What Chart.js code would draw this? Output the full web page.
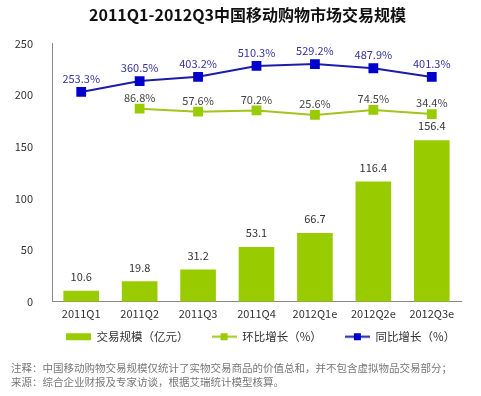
<!DOCTYPE html>
<html><head><meta charset="utf-8">
<script src="https://cdn.jsdelivr.net/npm/chart.js@4/dist/chart.umd.min.js"></script>
<style>html,body{margin:0;padding:0;background:#fff}#wrap{width:481px;height:396px;position:relative}</style>
</head><body><div id="wrap"><canvas id="c" width="481" height="396"></canvas></div>
<script>
const categories = ['2011Q1','2011Q2','2011Q3','2011Q4','2012Q1e','2012Q2e','2012Q3e'];
const scaleValues = [10.6, 19.8, 31.2, 53.1, 66.7, 116.4, 156.4];
const qoqGrowth = [null, 86.8, 57.6, 70.2, 25.6, 74.5, 34.4];
const yoyGrowth = [253.3, 360.5, 403.2, 510.3, 529.2, 487.9, 401.3];
const yTickStep = 50;
const yMax = 250;
const titleText = '2011Q1-2012Q3中国移动购物市场交易规模';
const seriesNames = ['交易规模（亿元）', '环比增长（%）', '同比增长（%）'];
const notes = ['注释：中国移动购物交易规模仅统计了实物交易商品的价值总和，并不包含虚拟物品交易部分；',
               '来源：综合企业财报及专家访谈，根据艾瑞统计模型核算。'];

const FONT = "'Noto Sans CJK SC', 'DejaVu Sans', sans-serif";
const BAR = '#99cc00', GLINE = '#a2c41c', GMARK = '#99cc00', BLINE = '#1c1ca8', BMARK = '#0000cc';

function legendIcon(kind){
  const cv = document.createElement('canvas'); cv.width = 25; cv.height = 9;
  const x = cv.getContext('2d');
  if(kind === 'bar'){ x.fillStyle = BAR; x.fillRect(0,1,25,7); }
  else {
    const lc = kind === 'g' ? GLINE : BLINE, mc = kind === 'g' ? GMARK : BMARK;
    x.fillStyle = lc; x.fillRect(0,3.5,25,2);
    x.fillStyle = mc; x.fillRect(9,1,7,7);
  }
  return cv;
}
const icons = [legendIcon('bar'), legendIcon('g'), legendIcon('b')];

const labelPlugin = {
  id: 'valueLabels',
  afterDatasetsDraw(chart){
    const ctx = chart.ctx;
    ctx.save();
    ctx.textAlign = 'center'; ctx.textBaseline = 'middle';
    ctx.font = "11px " + FONT;
    chart.data.datasets.forEach((ds, i) => {
      const meta = chart.getDatasetMeta(i);
      meta.data.forEach((el, j) => {
        const v = ds.data[j]; if(v == null) return;
        let txt, dy, col;
        if(i === 0){ txt = v.toFixed(1); dy = 14; col = '#333'; }
        else if(i === 1){ txt = v.toFixed(1) + '%'; dy = 11; col = '#444'; }
        else { txt = v.toFixed(1) + '%'; dy = 13; col = '#33339a'; }
        ctx.fillStyle = col;
        ctx.fillText(txt, el.x, el.y - dy);
      });
    });
    ctx.restore();
  }
};
const notesPlugin = {
  id: 'notes',
  afterLayout(chart){
    // nudge the legend row up (closer to the axis labels) and centre it on the plot
    const lg = chart.legend;
    if(lg){ lg.top -= 17; lg.bottom -= 17; lg.left += 13; lg.right += 13; }
  },
  afterDraw(chart){
    const ctx = chart.ctx;
    ctx.save();
    ctx.font = "10.5px " + FONT; ctx.fillStyle = '#777';
    ctx.textAlign = 'left'; ctx.textBaseline = 'middle';
    notes.forEach((t, k) => ctx.fillText(t, 11, 368 + k * 14));
    ctx.restore();
  }
};

new Chart(document.getElementById('c'), {
  data: {
    labels: categories,
    datasets: [
      { type: 'bar', label: seriesNames[0], data: scaleValues, backgroundColor: BAR,
        barPercentage: 0.61, categoryPercentage: 1, yAxisID: 'y', order: 3 },
      { type: 'line', label: seriesNames[1], data: qoqGrowth, borderColor: GLINE, borderWidth: 2,
        pointStyle: 'rect', pointRadius: 5.5, pointBackgroundColor: GMARK, pointBorderColor: GMARK,
        yAxisID: 'y2', order: 2, spanGaps: false },
      { type: 'line', label: seriesNames[2], data: yoyGrowth, borderColor: BLINE, borderWidth: 2,
        pointStyle: 'rect', pointRadius: 5.5, pointBackgroundColor: BMARK, pointBorderColor: BMARK,
        yAxisID: 'y2', order: 1 }
    ]
  },
  options: {
    responsive: false, animation: false,
    layout: { padding: { left: 14, right: 0, top: 4, bottom: 26.5 } },
    scales: {
      x: { grid: { display: false, drawTicks: false }, border: { color: '#888' },
           ticks: { color: '#333', font: { size: 11, family: FONT }, padding: 5 } },
      y: { min: 0, max: yMax, grid: { display: false, drawTicks: false }, border: { color: '#888' },
           afterFit: s => { s.width = 38; },
           ticks: { stepSize: yTickStep, color: '#333', font: { size: 11, family: FONT }, padding: 19 } },
      y2: { position: 'right', min: -1826, max: 733, grid: { display: false, drawTicks: false },
            border: { display: false }, ticks: { display: false },
            afterFit: s => { s.width = 20; } }
    },
    plugins: {
      title: { display: true, text: titleText, color: '#111',
               font: { size: 16, weight: 'bold', family: FONT }, padding: { top: 1, bottom: 19.3 } },
      legend: { position: 'bottom', fullSize: true,
        labels: { usePointStyle: true, pointStyleWidth: 25, padding: 23, color: '#333',
          font: { size: 11.5, family: FONT, lineHeight: 1 },
          generateLabels: chart => chart.data.datasets.map((d, i) => ({
            text: d.label, pointStyle: icons[i], datasetIndex: i, hidden: false,
            fontColor: '#333', lineWidth: 0, strokeStyle: 'transparent', fillStyle: 'transparent' })) } },
      tooltip: { enabled: false }
    }
  },
  plugins: [labelPlugin, notesPlugin]
});
</script></body></html>
